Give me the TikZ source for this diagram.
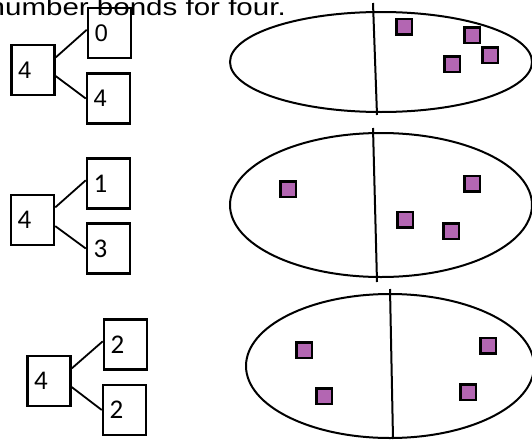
\documentclass[tikz,border=0pt]{standalone}
\usepackage{fontspec}
\setmainfont{Liberation Sans}
\newfontfamily\carlito{Carlito}
\usetikzlibrary{calc}
\definecolor{counterPurple}{RGB}{179,102,178}
\tikzset{
    numBox/.style={
        ,   draw
        ,   line width=2.5pt
        ,   minimum height=50pt
        ,   text width=30pt
        ,   inner xsep=6.5pt
        ,   align=left
        ,   font=\fontsize{24pt}{25pt}\selectfont
    },
    numBoxC/.style={
        ,   numBox
        ,   font=\carlito\fontsize{27pt}{28pt}\selectfont
    },
    bond/.style={
        ,   line width=1.8pt
    },
    counter/.style={
        ,   draw
        ,   line width=2.5pt
        ,   fill=counterPurple
        ,   minimum size=15.5pt
        ,   inner sep=0pt
    },
    splitSet/.style={
        ,   line width=2pt
    }
}

\begin{document}
\begin{tikzpicture}[x=1pt, y=-1pt]
	\useasboundingbox (0,0) rectangle (532,439);
	\node[anchor=base east, inner sep=0pt, xscale=1.23, font=\fontsize{24pt}{26pt}\selectfont] (title) at (286,15) {number bonds for four.};
	
	% bonds: whole on the left, parts on the right
	\node[numBox] (l1) at (33,70) {4};
	\node[numBox] (t1) at (109.5,33) {0};
	\node[numBox] (b1) at (108.5,98.5) {4};
	
	\node[numBoxC] (l2) at (32.5,220) {4};
	\node[numBoxC] (t2) at (108.5,183.5) {1};
	\node[numBoxC] (b2) at (108.5,248.5) {3};
	
	\node[numBoxC] (l3) at (49,381) {4};
	\node[numBoxC] (t3) at (125.5,344.5) {2};
	\node[numBoxC] (b3) at (124.5,410) {2};
	
	\foreach \r in {1,2,3}{
		\draw[bond] (l\r.29) -- (t\r.172);
		\draw[bond] (l\r.-15) -- (b\r.west);
	}
	
	% sets split in two
	\draw[splitSet] (381,62) ellipse [x radius=151, y radius=50];
	\draw[splitSet] (373,3) -- (377,115);
	\draw[splitSet] (381,205) ellipse [x radius=151, y radius=72];
	\draw[splitSet] (373,128) -- (377,282);
	\draw[splitSet] (390,366) ellipse [x radius=144, y radius=72];
	\draw[splitSet] (390,289) -- (393,439);
	
	\foreach \p [count=\i] in {(404,26.5),(472,35),(490,55),(452,64),(288,189),(472,183.5),(405,219.5),(451,231),(304,350),(324,396),(488,345.5),(468,392)}
		\node[counter] (c\i) at \p {};
\end{tikzpicture}
\end{document}
